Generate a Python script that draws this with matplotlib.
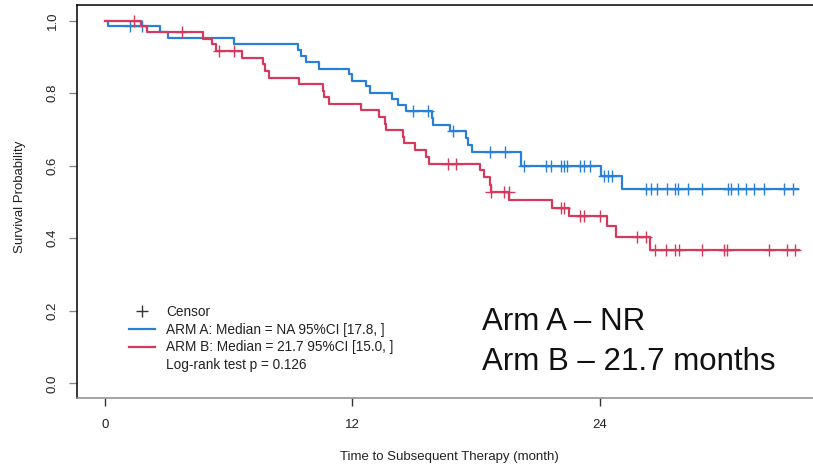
import matplotlib
matplotlib.use("Agg")
import matplotlib.pyplot as plt
import numpy as np
from matplotlib.lines import Line2D

plt.rcParams['font.family'] = ['Liberation Sans', 'DejaVu Sans']

# Arm A (blue): event times and survival after each event
arm_a_time = [0.13, 2.68, 3.04, 6.24, 9.37, 9.50, 9.76, 10.39, 11.82, 11.98,
              12.64, 12.86, 13.93, 14.21, 14.58, 15.85, 15.92, 16.74, 17.49,
              17.61, 17.79, 20.19, 24.06, 25.05]
arm_a_surv = [0.986, 0.970, 0.953, 0.937, 0.918, 0.903, 0.886, 0.868, 0.852,
              0.835, 0.819, 0.801, 0.785, 0.768, 0.751, 0.731, 0.712, 0.696,
              0.676, 0.657, 0.637, 0.600, 0.571, 0.537]
arm_a_censor = [1.20, 1.81, 14.93, 15.65, 16.87, 18.65, 19.41, 20.30, 21.40,
                21.64, 22.11, 22.24, 22.38, 23.04, 23.25, 23.53, 24.18, 24.39,
                24.57, 26.22, 26.47, 26.78, 27.24, 27.62, 27.80, 28.29, 28.97,
                30.19, 30.35, 30.71, 31.06, 31.49, 31.94, 32.91, 33.36]
arm_a_end = 33.6

# Arm B (red)
arm_b_time = [1.75, 2.02, 4.77, 5.17, 5.37, 6.63, 7.65, 7.76, 7.97, 9.41,
              10.55, 10.63, 10.84, 12.42, 13.27, 13.59, 13.63, 14.45, 14.48,
              15.03, 15.58, 15.69, 18.19, 18.40, 18.68, 18.70, 19.60, 21.66,
              22.49, 24.34, 24.78, 26.45]
arm_b_surv = [0.986, 0.969, 0.950, 0.935, 0.916, 0.896, 0.881, 0.862, 0.841,
              0.825, 0.807, 0.790, 0.771, 0.753, 0.734, 0.715, 0.699, 0.680,
              0.662, 0.643, 0.623, 0.606, 0.587, 0.568, 0.548, 0.528, 0.506,
              0.483, 0.461, 0.433, 0.403, 0.367]
arm_b_censor = [1.39, 3.73, 5.54, 6.27, 16.62, 17.03, 18.71, 19.37, 19.57,
                22.11, 22.24, 23.04, 23.25, 23.99, 25.81, 26.21, 26.66, 27.19,
                27.64, 27.84, 28.97, 30.03, 30.17, 32.22, 33.09, 33.44]
arm_b_end = 33.63

x_ticks = [0, 12, 24]
y_ticks = [0.0, 0.2, 0.4, 0.6, 0.8, 1.0]

legend_labels = ['Censor',
                 'ARM A: Median = NA 95%CI [17.8, ]',
                 'ARM B: Median = 21.7 95%CI [15.0, ]',
                 'Log-rank test p = 0.126']
note_lines = ['Arm A \u2013 NR', 'Arm B \u2013 21.7 months']

blue = '#2A80D8'
red = '#D43A5D'


def km_curve(ax, times, surv, censor, end, color):
    t = np.concatenate([[0.0], times, [end]])
    s = np.concatenate([[1.0], surv, [surv[-1]]])
    ax.step(t, s, where='post', color=color, linewidth=1.6)
    # survival value at each censor time
    idx = np.searchsorted(t, censor, side='right') - 1
    ax.plot(censor, s[idx], linestyle='none', marker='+', color=color,
            markersize=8, markeredgewidth=1.0)


fig = plt.figure(figsize=(8.13, 4.67), dpi=100)
ax = fig.add_axes([77 / 813, 69 / 467, 744 / 813, 393 / 467])

km_curve(ax, arm_a_time, arm_a_surv, arm_a_censor, arm_a_end, blue)
km_curve(ax, arm_b_time, arm_b_surv, arm_b_censor, arm_b_end, red)

ax.set_xlim(-1.358, 34.72)
ax.set_ylim(-0.0405, 1.0433)
ax.set_xticks(x_ticks)
ax.set_yticks(y_ticks)
ax.set_yticklabels(['%.1f' % v for v in y_ticks], rotation=90, va='center')

ax.spines['right'].set_visible(False)
ax.spines['left'].set_color('black')
ax.spines['top'].set_color('black')
ax.spines['bottom'].set_color('#8a8a8a')
for sp in ax.spines.values():
    sp.set_linewidth(1.1)

ax.tick_params(axis='y', length=6, width=1, color='#8a8a8a', pad=7,
               labelsize=9.5, labelcolor='#222222')
ax.tick_params(axis='x', length=6, width=1, color='#333333', pad=9,
               labelsize=9.5, labelcolor='#222222')

ax.set_xlabel('Time to Subsequent Therapy (month)', fontsize=9.5,
              color='#222222', va='center')
ax.xaxis.set_label_coords(0.5, (398 - 457) / 393)
fig.text(20 / 813, 1 - 197 / 467, 'Survival Probability', rotation=90,
         ha='center', va='center', fontsize=9.5, color='#222222')

handles = [Line2D([], [], linestyle='none', marker='+', color='#333333',
                  markersize=8, markeredgewidth=1.0),
           Line2D([], [], color=blue, linewidth=1.6),
           Line2D([], [], color=red, linewidth=1.6),
           Line2D([], [], linestyle='none')]
fig.legend(handles, legend_labels, loc='upper left',
           bbox_to_anchor=(129 / 813, 1 - 305 / 467),
           bbox_transform=fig.transFigure, frameon=False, fontsize=9.8,
           borderpad=0, borderaxespad=0, handlelength=1.9,
           handletextpad=0.85, labelspacing=0.27, labelcolor='#222222')

for i, line in enumerate(note_lines):
    fig.text(482 / 813, 1 - (330 + 40 * i) / 467, line, ha='left',
             va='baseline', fontsize=22.5, color='#111111')

fig.savefig('out.png', dpi=100)
